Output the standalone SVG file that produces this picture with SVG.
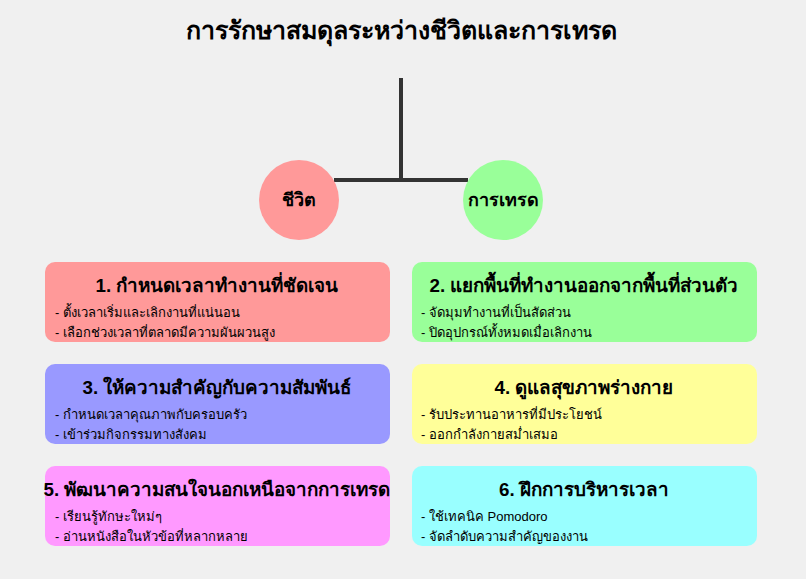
<svg xmlns="http://www.w3.org/2000/svg" width="806" height="579" viewBox="0 0 806 579">
<style>
.t{font-family:"Liberation Sans","Noto Sans",sans-serif;fill:#000}
.title{font-size:25px;font-weight:bold;text-anchor:middle}
.ct{font-size:18px;font-weight:bold;text-anchor:middle}
.bt{font-size:18.8px;font-weight:bold;text-anchor:middle}
.bl{font-size:13px}
.box{stroke:none}
.ln{stroke:#333;stroke-width:4;fill:none}
</style>
<rect width="806" height="579" fill="#f0f0f0"/>
<text class="t title" x="401" y="39">การรักษาสมดุลระหว่างชีวิตและการเทรด</text>
<g id="connectors">
<line class="ln" x1="401" y1="78" x2="401" y2="180"/>
<line class="ln" x1="334" y1="180" x2="468" y2="180"/>
</g>
<g id="life">
<circle cx="299" cy="200" r="40" fill="#ff9999"/>
<text class="t ct" x="299" y="206">ชีวิต</text>
</g>
<g id="trading">
<circle cx="503" cy="200" r="40" fill="#99ff99"/>
<text class="t ct" x="503" y="206">การเทรด</text>
</g>
<g id="box1">
<rect class="box" x="45" y="262" width="345" height="80" rx="10" fill="#ff9999"/>
<text class="t bt" x="217" y="292">1. กำหนดเวลาทำงานที่ชัดเจน</text>
<text class="t bl" x="55" y="317">- ตั้งเวลาเริ่มและเลิกงานที่แน่นอน</text>
<text class="t bl" x="55" y="337">- เลือกช่วงเวลาที่ตลาดมีความผันผวนสูง</text>
</g>
<g id="box2">
<rect class="box" x="412" y="262" width="345" height="80" rx="10" fill="#99ff99"/>
<text class="t bt" x="584" y="292">2. แยกพื้นที่ทำงานออกจากพื้นที่ส่วนตัว</text>
<text class="t bl" x="421" y="317">- จัดมุมทำงานที่เป็นสัดส่วน</text>
<text class="t bl" x="421" y="337">- ปิดอุปกรณ์ทั้งหมดเมื่อเลิกงาน</text>
</g>
<g id="box3">
<rect class="box" x="45" y="364" width="345" height="80" rx="10" fill="#9999ff"/>
<text class="t bt" x="217" y="394">3. ให้ความสำคัญกับความสัมพันธ์</text>
<text class="t bl" x="55" y="419">- กำหนดเวลาคุณภาพกับครอบครัว</text>
<text class="t bl" x="55" y="439">- เข้าร่วมกิจกรรมทางสังคม</text>
</g>
<g id="box4">
<rect class="box" x="412" y="364" width="345" height="80" rx="10" fill="#ffff99"/>
<text class="t bt" x="584" y="394">4. ดูแลสุขภาพร่างกาย</text>
<text class="t bl" x="421" y="419">- รับประทานอาหารที่มีประโยชน์</text>
<text class="t bl" x="421" y="439">- ออกกำลังกายสม่ำเสมอ</text>
</g>
<g id="box5">
<rect class="box" x="45" y="466" width="345" height="80" rx="10" fill="#ff99ff"/>
<text class="t bt" x="217" y="496">5. พัฒนาความสนใจนอกเหนือจากการเทรด</text>
<text class="t bl" x="55" y="521">- เรียนรู้ทักษะใหม่ๆ</text>
<text class="t bl" x="55" y="541">- อ่านหนังสือในหัวข้อที่หลากหลาย</text>
</g>
<g id="box6">
<rect class="box" x="412" y="466" width="345" height="80" rx="10" fill="#99ffff"/>
<text class="t bt" x="584" y="496">6. ฝึกการบริหารเวลา</text>
<text class="t bl" x="421" y="521">- ใช้เทคนิค Pomodoro</text>
<text class="t bl" x="421" y="541">- จัดลำดับความสำคัญของงาน</text>
</g>
</svg>
